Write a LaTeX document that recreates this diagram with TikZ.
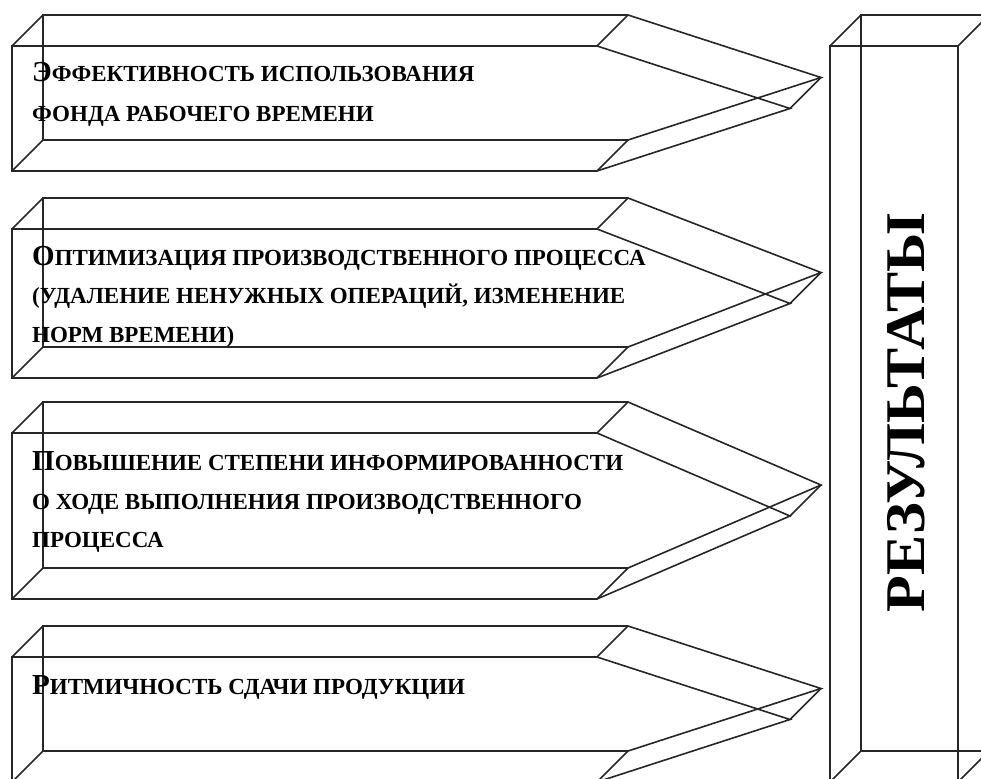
\documentclass[tikz,border=0pt]{standalone}
\usepackage{fontspec}
\setmainfont{Liberation Serif}
\usetikzlibrary{calc}
\newcommand\InitCap[1]{{\fontsize{29}{29}\selectfont #1}}
\tikzset{
  edge/.style={draw=black!85, line width=1.6pt, line join=miter},
  lbl/.style={anchor=base west, inner sep=0pt, font=\fontsize{23}{23}\selectfont\bfseries},
  big/.style={inner sep=0pt, rotate=90, font=\fontsize{56}{56}\selectfont\bfseries}
}
\begin{document}
\begin{tikzpicture}[x=1pt,y=-1pt]
\useasboundingbox (0,0) rectangle (981,778);
% arrows
\foreach \t/\b [count=\i] in {46/171, 229/378, 433/599, 657/782}{
  \pgfmathsetmacro\m{(\t+\b)/2}
  \coordinate (f\i a) at (12,\t);
  \coordinate (f\i b) at (597,\t);
  \coordinate (f\i c) at (790,\m);
  \coordinate (f\i d) at (597,\b);
  \coordinate (f\i e) at (12,\b);
  \foreach \k in {a,b,c,d,e}{\coordinate (k\i\k) at ($(f\i\k)+(31,-31)$);}
  \draw[edge] (f\i a) -- (f\i b) -- (f\i c) -- (f\i d) -- (f\i e) -- cycle;
  \draw[edge] (k\i a) -- (k\i b) -- (k\i c) -- (k\i d) -- (k\i e) -- cycle;
  \foreach \k in {a,b,c,d,e}{\draw[edge] (f\i\k) -- (k\i\k);}
}
% result column
\coordinate (ra) at (830,46);
\coordinate (rb) at (958,46);
\coordinate (rc) at (958,782);
\coordinate (rd) at (830,782);
\foreach \k in {a,b,c,d}{\coordinate (sr\k) at ($(r\k)+(31,-31)$);}
\draw[edge] (ra) -- (rb) -- (rc) -- (rd) -- cycle;
\draw[edge] (sra) -- (srb) -- (src) -- (srd) -- cycle;
\foreach \k in {a,b,c,d}{\draw[edge] (r\k) -- (sr\k);}
\node[big] (res) at (906,413) {\scalebox{1.075}[1]{РЕЗУЛЬТАТЫ}};
% texts
\node[lbl] (t1a) at (32,82) {\InitCap{Э}ФФЕКТИВНОСТЬ ИСПОЛЬЗОВАНИЯ};
\node[lbl] (t1b) at (32,122) {ФОНДА РАБОЧЕГО ВРЕМЕНИ};
\node[lbl] (t2a) at (32,265) {\InitCap{О}ПТИМИЗАЦИЯ ПРОИЗВОДСТВЕННОГО ПРОЦЕССА};
\node[lbl] (t2b) at (32,303) {(УДАЛЕНИЕ НЕНУЖНЫХ ОПЕРАЦИЙ, ИЗМЕНЕНИЕ};
\node[lbl] (t2c) at (32,342) {НОРМ ВРЕМЕНИ)};
\node[lbl] (t3a) at (32,470) {\InitCap{П}ОВЫШЕНИЕ СТЕПЕНИ ИНФОРМИРОВАННОСТИ};
\node[lbl] (t3b) at (32,509) {О ХОДЕ ВЫПОЛНЕНИЯ ПРОИЗВОДСТВЕННОГО};
\node[lbl] (t3c) at (32,547) {ПРОЦЕССА};
\node[lbl] (t4a) at (32,694) {\InitCap{Р}ИТМИЧНОСТЬ СДАЧИ ПРОДУКЦИИ};
\end{tikzpicture}
\end{document}
